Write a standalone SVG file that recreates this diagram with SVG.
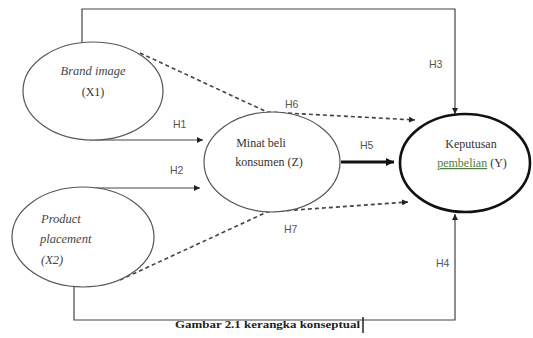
<svg xmlns="http://www.w3.org/2000/svg" width="533" height="338" viewBox="0 0 533 338">
<style>
.node{fill:#fff;stroke:#555;stroke-width:1.2}
.thick{fill:#fff;stroke:#111;stroke-width:2.6}
.t{font-family:"Liberation Serif",serif;font-size:12px;fill:#333}
.ti{font-family:"Liberation Serif",serif;font-size:12.5px;font-style:italic;fill:#444}
.lab{font-family:"Liberation Sans",sans-serif;font-size:10.5px;fill:#555}
.ln{fill:none;stroke:#444;stroke-width:1.2}
.dash{fill:none;stroke:#444;stroke-width:1.6;stroke-dasharray:4 3}
.cap{font-family:"Liberation Serif",serif;font-size:11px;font-weight:bold;fill:#222}
</style>
<defs>
<marker id="ah" viewBox="0 0 10 10" refX="10" refY="5" markerWidth="6" markerHeight="6" markerUnits="userSpaceOnUse" orient="auto">
<path d="M0,0 L10,5 L0,10 z" fill="#222"/>
</marker>
<marker id="ahb" viewBox="0 0 10 10" refX="10" refY="5" markerWidth="8" markerHeight="8" markerUnits="userSpaceOnUse" orient="auto">
<path d="M0,0 L10,5 L0,10 z" fill="#111"/>
</marker>
</defs>
<rect width="533" height="338" fill="#fff"/>
<g id="connectors">
<path class="ln" d="M82,43 V9 H455 V114" marker-end="url(#ah)"/>
<path class="ln" d="M74,287 V320 H455 V214" marker-end="url(#ah)"/>
<path class="ln" d="M90,140 H203" marker-end="url(#ah)"/>
<path class="ln" d="M90,188 H200" marker-end="url(#ah)"/>
<path fill="none" stroke="#111" stroke-width="3" d="M341,162 H394" marker-end="url(#ahb)"/>
<path class="dash" d="M140,53 L267,112 L415,120" marker-end="url(#ah)"/>
<path class="dash" d="M120,280 L267,212 L408,202" marker-end="url(#ah)"/>
<text class="lab" x="173" y="128">H1</text>
<text class="lab" x="170" y="174">H2</text>
<text class="lab" x="429" y="68">H3</text>
<text class="lab" x="436" y="267">H4</text>
<text class="lab" x="360" y="149">H5</text>
<text class="lab" x="285" y="108">H6</text>
<text class="lab" x="284" y="233">H7</text>
</g>
<g id="brand-image">
<ellipse class="node" cx="93" cy="91" rx="70" ry="49"/>
<text class="ti" x="93" y="75" text-anchor="middle">Brand image</text>
<text class="t" x="93" y="96" text-anchor="middle">(X1)</text>
</g>
<g id="product-placement">
<ellipse class="node" cx="83" cy="237" rx="71" ry="50"/>
<text class="ti" x="41" y="223">Product</text>
<text class="ti" x="40" y="243">placement</text>
<text class="ti" x="41" y="264">(X2)</text>
</g>
<g id="minat-beli">
<ellipse class="node" cx="272" cy="162" rx="68" ry="50"/>
<text class="t" x="261" y="147" text-anchor="middle">Minat beli</text>
<text class="t" x="269" y="166" text-anchor="middle">konsumen (Z)</text>
</g>
<g id="keputusan">
<ellipse class="thick" cx="465" cy="163" rx="65" ry="49"/>
<text class="t" x="471" y="148" text-anchor="middle">Keputusan</text>
<text class="t" x="472" y="167" text-anchor="middle"><tspan fill="#4f7d3c" text-decoration="underline">pembelian</tspan> (Y)</text>
</g>
<g id="caption">
<text class="cap" x="175" y="328" textLength="185" lengthAdjust="spacingAndGlyphs">Gambar 2.1 kerangka konseptual</text>
<line x1="363" y1="317" x2="363" y2="333" stroke="#222" stroke-width="1.5"/>
</g>
</svg>
